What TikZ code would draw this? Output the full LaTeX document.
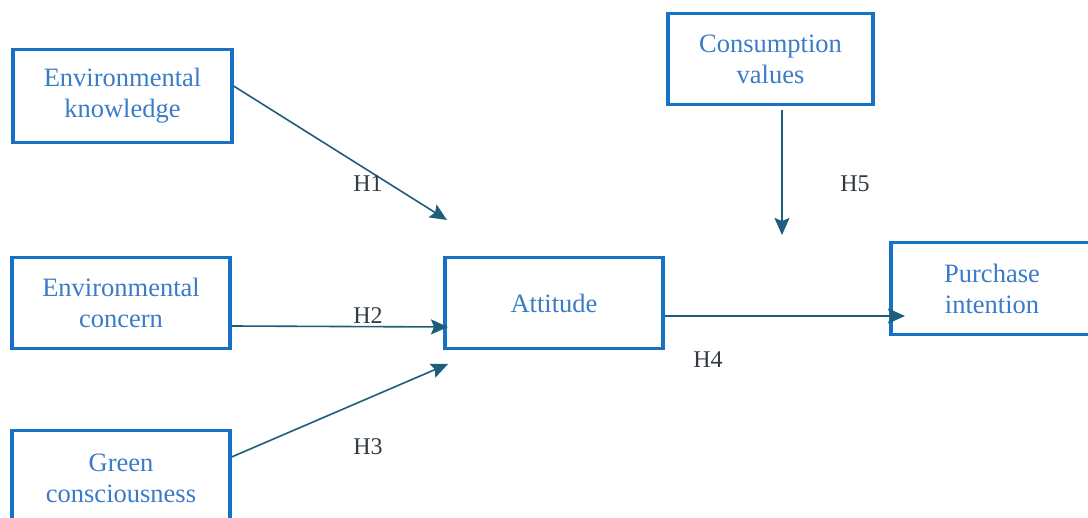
\documentclass[tikz,border=0pt]{standalone}
\usepackage{fontspec}
\setmainfont{Liberation Serif}
\usetikzlibrary{arrows.meta}
\definecolor{boxblue}{RGB}{22,114,196}
\definecolor{txtblue}{RGB}{58,124,200}
\definecolor{arrteal}{RGB}{30,94,124}
\definecolor{lblgray}{RGB}{50,58,68}
\begin{document}
\begin{tikzpicture}[x=1pt,y=-1pt,
  vbox/.style={draw=boxblue,line width=3.2pt,text=txtblue,align=center,
    font=\fontsize{26.5}{31}\selectfont,inner sep=0pt},
  conn/.style={draw=arrteal,line width=1.6pt,-{Stealth[length=17pt,width=15pt,inset=3pt]}},
  hlbl/.style={text=lblgray,font=\fontsize{24}{27}\selectfont,inner sep=0pt}]
\useasboundingbox (0,0) rectangle (1088,518);
\clip (0,0) rectangle (1088,518);
\fill[white] (0,0) rectangle (1088,518);
\node[vbox,minimum width=219pt,minimum height=93pt] (ek) at (122.5,96) {Environmental\\knowledge};
\node[vbox,minimum width=218pt,minimum height=91pt] (ec) at (121,303) {Environmental\\concern};
\node[vbox,minimum width=218pt,minimum height=95pt] (gc) at (121,478) {Green\\consciousness};
\node[vbox,minimum width=218pt,minimum height=91pt] (att) at (554,303) {Attitude};
\node[vbox,minimum width=205pt,minimum height=91pt] (cv) at (770.5,59) {Consumption\\values};
\node[vbox,minimum width=202pt,minimum height=92pt] (pi) at (992,288.5) {Purchase\\intention};
\coordinate (t1) at (447,220);
\coordinate (t2) at (448,327);
\coordinate (t3) at (448,364);
\coordinate (t5) at (782,235);
\coordinate (t4) at (905,316);
\draw[conn] (ek.east |- 0,86) -- (t1);
\draw[conn] (ec.east |- 0,326) -- (t2);
\draw[conn] (gc.east |- 0,457) -- (t3);
\draw[conn] (cv.south -| 782,0) ++(0,4) -- (t5);
\draw[conn] (att.east |- 0,316) -- (t4);
\node[hlbl] (h1) at (368,184) {H1};
\node[hlbl] (h2) at (368,316) {H2};
\node[hlbl] (h3) at (368,447) {H3};
\node[hlbl] (h4) at (708,360) {H4};
\node[hlbl] (h5) at (855,184) {H5};
\end{tikzpicture}
\end{document}
